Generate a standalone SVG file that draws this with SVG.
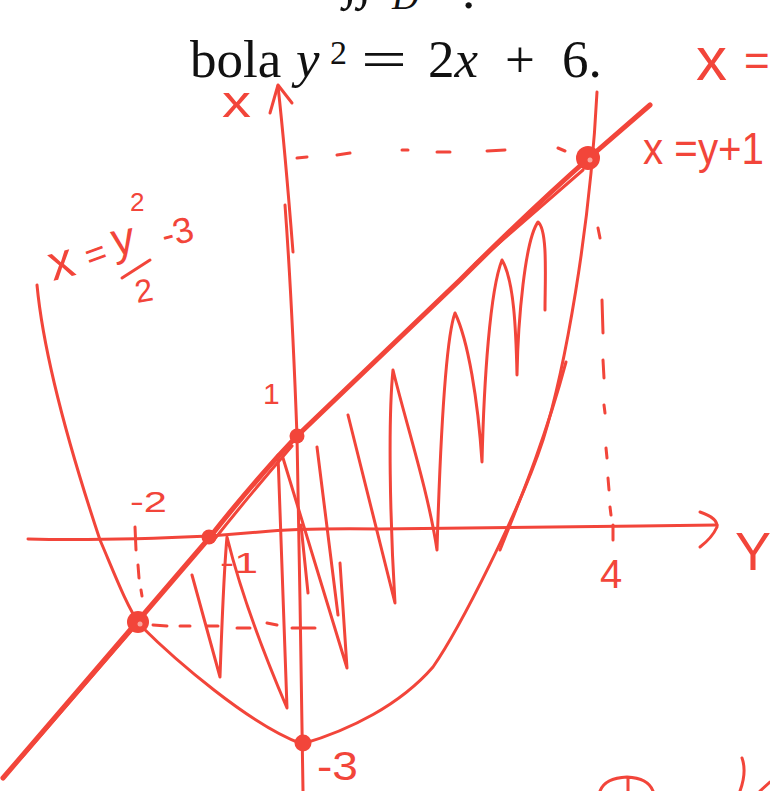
<svg xmlns="http://www.w3.org/2000/svg" width="770" height="791" viewBox="0 0 770 791">
<style>
.s{fill:none;stroke:#f2453a;stroke-width:3;stroke-linecap:round;stroke-linejoin:round}
.t{stroke-width:5}
.d{fill:#f2453a}
.hw{font-family:"Liberation Sans",Arial,sans-serif;fill:#f2453a}
.bk{font-family:"Liberation Serif","Times New Roman",serif;fill:#111}
</style>
<rect width="770" height="791" fill="#fff"/>
<!-- printed text -->
<g id="printed">
<text class="bk" x="343" y="-3" font-size="53" font-style="italic">∫∫</text>
<text class="bk" x="392" y="9" font-size="37" font-style="italic">D</text>
<text class="bk" x="462" y="8" font-size="53">.</text>
<text class="bk" x="190" y="77" font-size="53">bola</text>
<text class="bk" x="296" y="77" font-size="53" font-style="italic">y</text>
<text class="bk" x="330" y="64" font-size="34">2</text>
<text class="bk" x="361" y="77" font-size="53" textLength="46" lengthAdjust="spacingAndGlyphs">=</text>
<text class="bk" x="428" y="77" font-size="53">2<tspan font-style="italic">x</tspan></text>
<text class="bk" x="505" y="77" font-size="53">+</text>
<text class="bk" x="562" y="77" font-size="53">6.</text>
</g>
<!-- axes -->
<g id="axes">
<path class="s" d="M278,86 Q285,150 293,252"/>
<path class="s" d="M285,205 Q292,300 297,436 L300,600 L303,791"/>
<path class="s" d="M270,113 L278,85 L292,103"/>
<path class="s" d="M28,539 Q100,541 210,536 L260,532 Q300,528 380,529 L640,526 L717,525"/>
<path class="s" d="M700,512 Q718,518 717,527 Q712,538 700,547"/>
<path class="s" d="M613,525 L613,540 M135,527 L136,550"/>
</g>
<!-- dashed guides -->
<g id="guides">
<path class="s" d="M297,158 L307,157 M337,155 L350,153 M402,150 L408,150 M437,152 L450,152 M487,151 L505,150 M558,148 L565,151"/>
<path class="s" d="M153,625 L167,626 M180,626 L190,626 M207,626 L218,626 M237,628 L250,628 M267,623 L277,625 M292,628 L315,628"/>
<path class="s" d="M598,228 L600,238 M602,300 L603,333 M603,360 L604,378 M604,405 L605,413 M606,448 L607,458 M608,478 L609,490 M610,507 L611,515"/>
<path class="s" d="M138,565 L139,578 M141,590 L142,596"/>
</g>
<!-- curves -->
<g id="curves">
<path class="s t" d="M3,778 L137,622 L210,537 Q255,480 297,436 L460,280 Q530,210 590,157 L650,105"/>
<path class="s" d="M22,757 L132,630 M213,541 Q252,492 292,446 M475,264 L583,170"/>
<path class="s" d="M37,285 C45,370 80,480 100,540 C113,570 126,605 140,625 C175,660 250,725 302,744 C350,730 400,705 433,667 C460,628 520,510 543,440 C565,370 590,230 597,92"/>
<path class="s" d="M500,550 C520,500 545,440 566,362"/>
</g>
<!-- hatching -->
<g id="hatch">
<path class="s" d="M348,415 L395,603 C390,520 388,420 393,370 C405,420 428,490 437,550 C440,450 445,340 455,313 C468,340 478,400 482,462 C484,380 490,290 502,260 C514,280 516,330 517,375 C518,320 525,240 538,222 C548,230 545,280 545,310"/>
<path class="s" d="M192,575 L220,677 C222,620 224,570 227,537 Q245,610 287,708 L278,455"/>
<path class="s" d="M283,458 L347,668 L340,563"/>
<path class="s" d="M317,447 L338,615"/>
<path class="s" d="M301,525 L308,593"/>
</g>
<!-- points -->
<g id="points">
<circle class="d" cx="588" cy="158" r="12"/>
<circle cx="590" cy="160" r="2.5" fill="#f9a59e"/>
<circle class="d" cx="138" cy="622" r="11"/>
<circle cx="140" cy="624" r="2.5" fill="#f9a59e"/>
<circle class="d" cx="209" cy="537" r="7.5"/>
<circle class="d" cx="297" cy="436" r="7.5"/>
<circle class="d" cx="303" cy="743" r="8.5"/>
</g>
<!-- handwritten labels -->
<g id="labels">
<text class="hw" x="222" y="117" font-size="44" textLength="29" lengthAdjust="spacingAndGlyphs">x</text>
<text class="hw" x="696" y="80" font-size="62">x</text>
<text class="hw" x="744" y="76" font-size="44">=</text>
<text class="hw" x="643" y="164" font-size="44" textLength="121" lengthAdjust="spacingAndGlyphs">x =y+1</text>
<text class="hw" x="53" y="281" font-size="50" transform="rotate(-15 53 281)">x</text>
<text class="hw" x="90" y="269" font-size="36" transform="rotate(-20 90 269)">=</text>
<text class="hw" x="114" y="256" font-size="46" transform="rotate(-10 114 256)">y</text>
<text class="hw" x="130" y="211" font-size="26">2</text>
<path class="s" d="M122,278 L150,260"/>
<text class="hw" x="137" y="303" font-size="32" transform="rotate(-10 137 303)">2</text>
<text class="hw" x="165" y="248" font-size="36" transform="rotate(-15 165 248)">-3</text>
<text class="hw" x="263" y="404" font-size="30">1</text>
<text class="hw" x="130" y="512" font-size="30" textLength="37" lengthAdjust="spacingAndGlyphs">-2</text>
<text class="hw" x="220" y="573" font-size="30" textLength="38" lengthAdjust="spacingAndGlyphs">-1</text>
<text class="hw" x="600" y="588" font-size="40">4</text>
<text class="hw" x="317" y="780" font-size="40" textLength="41" lengthAdjust="spacingAndGlyphs">-3</text>
<text class="hw" x="735" y="570" font-size="54">Y</text>
</g>
<!-- partial strokes at the bottom edge -->
<g id="bottom-marks">
<path class="s" d="M600,791 Q605,778 627,777 Q648,778 653,791 M628,778 L628,791"/>
<path class="s" d="M742,758 Q747,772 740,791 M760,791 L770,782"/>
</g>
</svg>
